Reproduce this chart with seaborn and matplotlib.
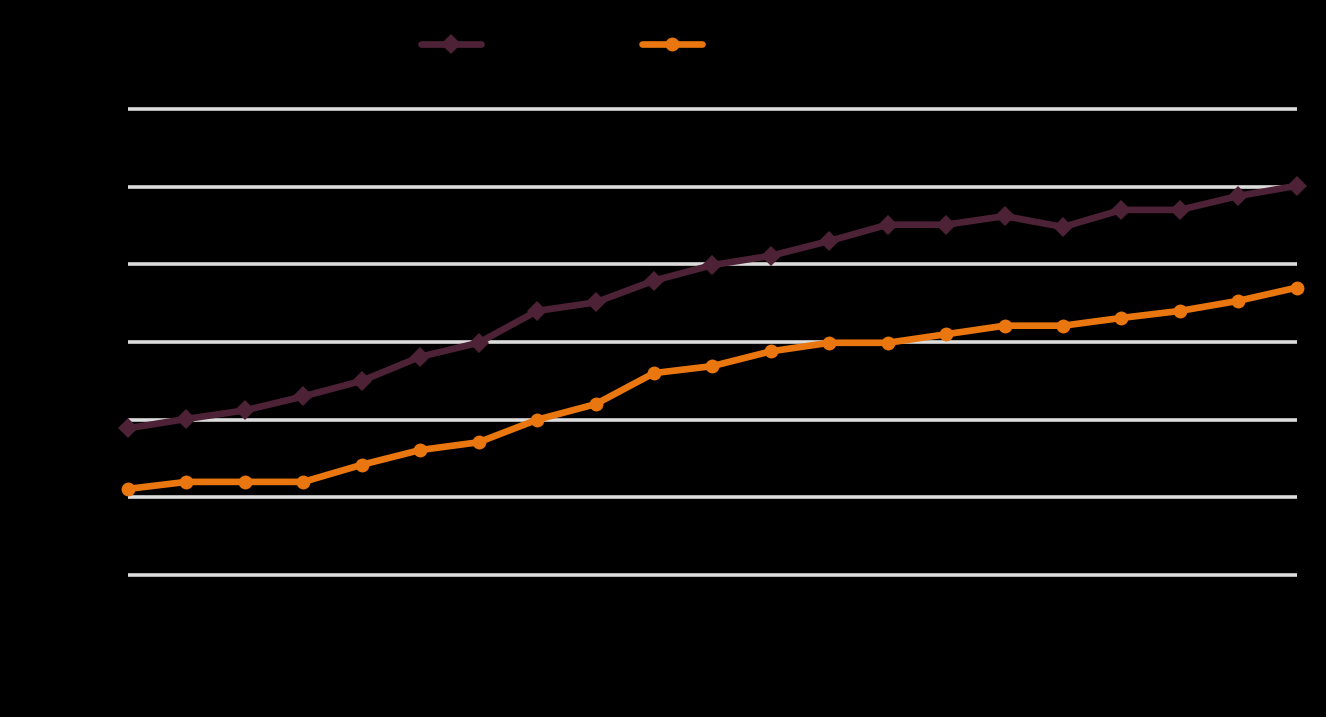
import matplotlib
matplotlib.use("Agg")
import matplotlib.pyplot as plt
import seaborn as sns
import pandas as pd

# values (21 periods, y axis 0-60)
periods = list(range(21))
series_dark = [18.9, 20.1, 21.2, 23.0, 25.0, 28.1, 29.9, 34.0, 35.1, 37.9, 39.9,
               41.1, 43.0, 45.1, 45.1, 46.2, 44.8, 47.0, 47.0, 48.8, 50.1]
series_orange = [11.1, 12.0, 12.0, 12.0, 14.2, 16.1, 17.1, 20.0, 22.0, 26.0, 26.9,
                 28.8, 29.9, 29.9, 31.0, 32.1, 32.1, 33.1, 34.0, 35.3, 37.0]
series_names = ["dark", "orange"]
y_ticks = [0, 10, 20, 30, 40, 50, 60]

df = pd.DataFrame({
    "period": periods * 2,
    "value": series_dark + series_orange,
    "series": [series_names[0]] * 21 + [series_names[1]] * 21,
})

sns.set_style("dark")
fig = plt.figure(figsize=(13.26, 7.17), dpi=100, facecolor="black")
ax = fig.add_axes([0.0965, 0.187, 0.8815, 0.672])
ax.set_facecolor("black")

colors = {"dark": "#4D2236", "orange": "#E9760E"}
markers = {"dark": "D", "orange": "o"}

sns.lineplot(data=df, x="period", y="value", hue="series", style="series",
             palette=colors, markers=markers, dashes=False, linewidth=4.8,
             markersize=10, markeredgewidth=0, ax=ax, legend=False, zorder=3)
for line in ax.lines:
    line.set_clip_on(False)

ax.set_xlim(0, 20)
ax.set_ylim(-1, 61)
ax.set_yticks(y_ticks)
ax.yaxis.grid(True, color="#dcdcdc", linewidth=2.6, solid_capstyle="round")
ax.xaxis.grid(False)
for s in ax.spines.values():
    s.set_visible(False)
ax.set_xticks([])
ax.tick_params(axis="y", length=0, labelcolor="black")
ax.set_yticklabels([])
ax.set_xlabel("")
ax.set_ylabel("")

handles = [plt.Line2D([], [], color=colors[n], marker=markers[n], linewidth=4.8,
                      markersize=10, markeredgewidth=0) for n in series_names]
fig.legend(handles, ["", ""], loc="center", bbox_to_anchor=(0.4235, 0.937),
           ncol=2, frameon=False, handlelength=4.3, handletextpad=0,
           columnspacing=11.6, fontsize=10)

fig.savefig("out.png", dpi=100, facecolor="black")
